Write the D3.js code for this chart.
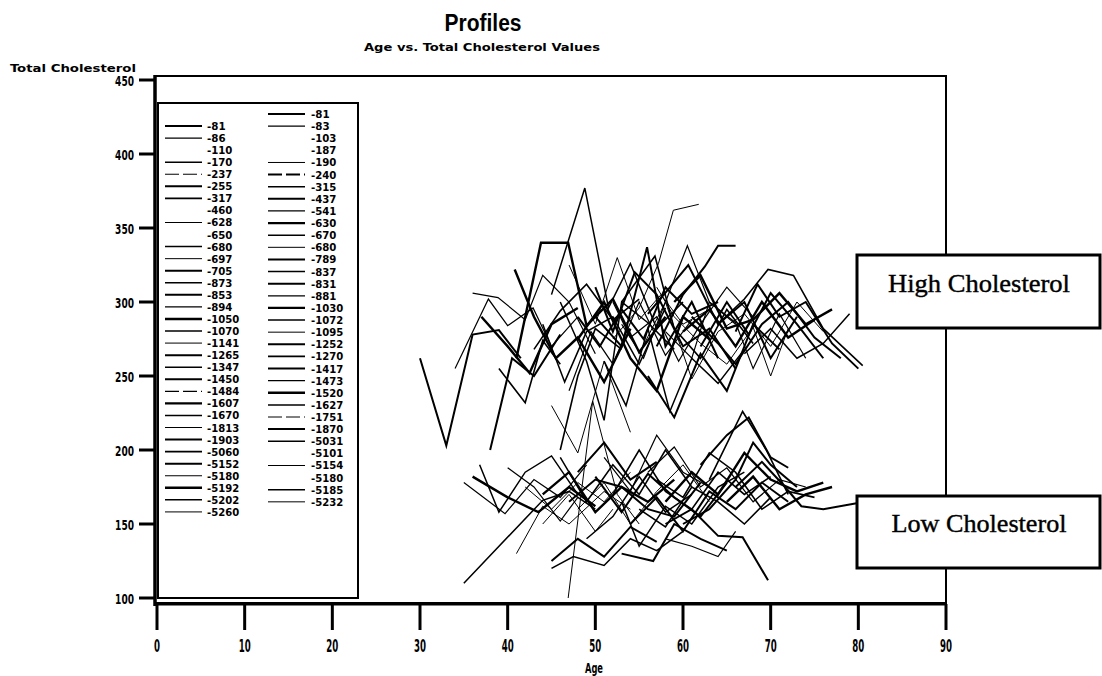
<!DOCTYPE html>
<html><head><meta charset="utf-8">
<script src="https://cdn.jsdelivr.net/npm/d3@7"></script>
<style>body{margin:0;background:#fff}</style>
</head><body>
<svg id="c" width="1102" height="676"></svg>
<script>
const xTicks = [0,10,20,30,40,50,60,70,80,90];
const yTicks = [100,150,200,250,300,350,400,450];
const legendLeft = ["81","86","110","170","237","255","317","460","628","650","680","697","705","873","853","894","1050","1070","1141","1265","1347","1450","1484","1607","1670","1813","1903","5060","5152","5180","5192","5202","5260"];
const legendRight = ["81","83","103","187","190","240","315","437","541","630","670","680","789","837","831","881","1030","1072","1095","1252","1270","1417","1473","1520","1627","1751","1870","5031","5101","5154","5180","5185","5232"];

// [age, total cholesterol] per visit
const highProfiles = [
 [[30,262],[33,203],[36,278],[39,281],[41.5,262]],
 [[34,255],[37.8,302],[40,284],[42.9,296],[45,270],[48,290]],
 [[41,262],[43.8,340],[46.9,340],[49,284],[52,302],[55,266],[58,290]],
 [[45,305],[48.8,377],[51.5,296],[54,326],[57,282],[60,300]],
 [[52,275],[55,296],[57.2,326],[58.9,362],[61.8,366]],
 [[57,270],[60,305],[62.5,324],[64,338],[66,338]],
 [[64,285],[67,302],[69.7,322],[72.6,318],[76,282],[80.5,257]],
 [[66,280],[68.5,312],[71,290],[74,300],[77,272],[80,255]],
 [[36,306],[38.9,303],[42,288],[44,318],[47,300],[50,265]],
 [[40.8,322],[43,290],[45.5,262],[48,276],[51,246],[54,282]],
 [[46,300],[49,260],[51,220],[53,300],[56,286],[59,268]],
 [[47,325],[50,285],[52.5,330],[55,288],[57.5,305],[60,285],[63,295]],
 [[50,290],[53,270],[55.9,337],[58,270],[61,300],[64,262]],
 [[53,300],[56.8,331],[59,282],[62,262],[65,295],[68,272]],
 [[56,292],[60.6,325],[64,285],[67,300],[70,262],[73,290]],
 [[58,280],[61,262],[63,300],[66,286],[68,255],[71,292],[74,262]],
 [[48,275],[51,300],[54,262],[57,240],[60,290],[63,275]],
 [[44,285],[46.5,246],[49,280],[52,290],[55,258],[58,296]],
 [[55,265],[58,300],[61,248],[64,280],[67,292],[70,270],[73,300],[76,280]],
 [[62,270],[65,300],[67.5,278],[70,306],[73,285],[76,262]],
 [[39,255],[42,232],[44,274],[46,258]],
 [[50,310],[52,280],[54.5,320],[57,305],[60,270],[63,282],[66,255]],
 [[47,240],[49.5,280],[52,258],[55,300],[58,264],[61,288]],
 [[59,300],[62,318],[65,282],[68,288],[71,306],[74,285],[77,295]],
 [[51,260],[53.5,230],[56,282],[58.5,226],[61,262],[64,245],[67,268]],
 [[45,230],[48,198],[51,260],[54,212]],
 [[56,250],[59,222],[62,265],[65,240],[68,285],[71,268]],
 [[43,268],[46,294],[49,312],[52,288],[55,302]],
 [[61,290],[64,272],[66,258],[69,285],[72,300],[75,276],[78,262]],
 [[53,285],[55.5,262],[58,300],[60.5,338],[63,300],[66,285]],
 [[37,290],[40,270],[42.5,252],[45,285],[48,296]],
 [[67,265],[70,282],[73,262],[76,272],[79,292]],
 [[57,310],[59,290],[62,272],[65,258],[68,283],[70,250],[72,282]],
 [[38,200],[40.5,262],[43,250],[46,278]],
 [[46,200],[48,250],[50,282],[53,268]],
 [[48,290],[50.5,270],[53,295],[55.5,275],[58,310],[61,292],[64,300]],
 [[52,300],[54,276],[57,290],[59.5,260],[62,285],[65,310],[68,290]],
 [[60,280],[63,295],[66,270],[69,300],[72,276],[75,288]]
];
const lowProfiles = [
 [[35,110],[44,166],[47,172],[50,160]],
 [[46.9,100],[49.7,233],[52.5,170],[55,150]],
 [[58,150],[61,160],[64,142],[66.8,141],[69.7,112]],
 [[63,180],[66.8,226],[69.5,200],[72,170]],
 [[66,175],[69,192],[71.5,176],[73.5,162],[76,160],[79.8,164]],
 [[35,178],[39.7,157],[43,180],[46,168],[49,190]],
 [[36,182],[40,168],[43.5,158],[47,175],[50,162]],
 [[36.8,190],[39,158],[42,185],[45,196],[48,170]],
 [[41,130],[44,162],[47,150],[51,172],[54,160]],
 [[45,125],[48,140],[51,128],[54,148],[57,138]],
 [[45,120],[47.5,128],[51,122],[54,140],[57,132],[60,145]],
 [[53,130],[56.6,125],[59,150],[62,140],[65,132]],
 [[58,140],[61,135],[64,128],[66,145]],
 [[44,170],[47,185],[50,158],[53,175],[56,165],[59,180]],
 [[46,195],[49,165],[52,190],[55,170],[58,200],[61,175]],
 [[48,160],[51,178],[54,150],[57,172],[60,190],[63,165]],
 [[50,182],[53,158],[56,184],[59,168],[62,155],[65,178]],
 [[52,170],[55,200],[58,172],[61,160],[64,185],[67,170],[70,182]],
 [[54,150],[57,168],[60,145],[63,172],[66,160],[69,178],[72,165]],
 [[56,185],[59,202],[62,175],[65,188],[68,165],[71,180],[74,175]],
 [[58,165],[61,185],[64,170],[67,198],[70,180],[73,172],[76,178]],
 [[49,140],[52,155],[55,182],[58,158],[61,170]],
 [[42,175],[45,160],[48,178],[51,165],[54,185]],
 [[60,150],[63,160],[66,180],[68,205],[70,190],[73,175]],
 [[55,160],[58,148],[61,175],[64,165],[67,150],[70,168]],
 [[47,165],[50,180],[53,175],[56,160],[59,155],[62,178]],
 [[51,195],[54,172],[57,210],[60,185],[63,175]],
 [[65,165],[68,182],[71,160],[74,170],[77,175]],
 [[53,165],[55,135],[58,162],[61,150],[64,175],[67,185]],
 [[44,150],[47,170],[50,145],[52,160]],
 [[62,190],[65,210],[67.5,222],[70,195],[72,188]],
 [[57,180],[60,168],[63,198],[66,185],[69,160],[72,172],[75,168]],
 [[48,185],[51,205],[54,180],[57,192]],
 [[40,188],[43,175],[46,152],[48,168]]
];

// style tables (kept separate from data)
const widthCycle = [2, 1.2, 2.4, 1.5, 1, 2, 1.6];
const legLeftHidden = [2,7,9], legRightHidden = [2,3,28,30];
const legLeftDashed = [4,22], legRightDashed = [5,25];

const svg = d3.select("#c");
const SAS = "'DejaVu Sans Condensed','DejaVu Sans',sans-serif";
const x = d3.scaleLinear().domain([0,90]).range([157,946]);
const y = d3.scaleLinear().domain([100,450]).range([598,80]);
const line = d3.line().x(d=>x(d[0])).y(d=>y(d[1]));

// titles
svg.append("text").attr("x",483).attr("y",31).attr("text-anchor","middle")
  .attr("font-family","'Liberation Sans',Arial,sans-serif").attr("font-weight","bold")
  .attr("font-size",23).attr("textLength",77).attr("lengthAdjust","spacingAndGlyphs").text("Profiles");
svg.append("text").attr("x",482).attr("y",51).attr("text-anchor","middle")
  .attr("font-family",SAS).attr("font-weight","bold").attr("font-size",11)
  .attr("textLength",236).attr("lengthAdjust","spacingAndGlyphs").text("Age vs. Total Cholesterol Values");
svg.append("text").attr("x",10).attr("y",72)
  .attr("font-family",SAS).attr("font-weight","bold").attr("font-size",10)
  .attr("textLength",126).attr("lengthAdjust","spacingAndGlyphs").text("Total Cholesterol");

// data lines
const all = highProfiles.concat(lowProfiles);
svg.append("g").selectAll("path").data(all).join("path")
  .attr("d", line).attr("fill","none").attr("stroke","#000")
  .attr("stroke-width",(d,i)=>widthCycle[i%widthCycle.length])
  .attr("stroke-linejoin","miter");

// frame
svg.append("rect").attr("x",155).attr("y",76).attr("width",791).attr("height",527)
  .attr("fill","none").attr("stroke","#000").attr("stroke-width",2);
svg.append("line").attr("x1",155).attr("x2",155).attr("y1",75).attr("y2",606)
  .attr("stroke","#000").attr("stroke-width",3.5);
svg.append("line").attr("x1",154).attr("x2",947).attr("y1",604).attr("y2",604)
  .attr("stroke","#000").attr("stroke-width",3);

// y axis ticks/labels
const yg = svg.append("g");
yg.selectAll("line").data(yTicks).join("line")
  .attr("x1",139).attr("x2",155).attr("y1",d=>y(d)).attr("y2",d=>y(d))
  .attr("stroke","#000").attr("stroke-width",3);
yg.selectAll("text").data(yTicks).join("text")
  .attr("x",134).attr("y",d=>y(d)+5.5).attr("text-anchor","end")
  .attr("font-family",SAS).attr("font-weight","bold").attr("font-size",14)
  .attr("textLength",d=>String(d).length*6.3).attr("lengthAdjust","spacingAndGlyphs")
  .text(d=>d);

// x axis ticks/labels
const xg = svg.append("g");
xg.selectAll("line").data(xTicks).join("line")
  .attr("x1",d=>x(d)).attr("x2",d=>x(d)).attr("y1",604).attr("y2",630)
  .attr("stroke","#000").attr("stroke-width",3);
xg.selectAll("text").data(xTicks).join("text")
  .attr("x",d=>x(d)).attr("y",652).attr("text-anchor","middle")
  .attr("font-family",SAS).attr("font-weight","bold").attr("font-size",18)
  .attr("textLength",d=>String(d).length*6).attr("lengthAdjust","spacingAndGlyphs")
  .text(d=>d);
svg.append("text").attr("x",594).attr("y",673).attr("text-anchor","middle")
  .attr("font-family",SAS).attr("font-weight","bold").attr("font-size",14)
  .attr("textLength",18).attr("lengthAdjust","spacingAndGlyphs").text("Age");

// legend
svg.append("rect").attr("x",158).attr("y",103).attr("width",200).attr("height",495)
  .attr("fill","#fff").attr("stroke","#000").attr("stroke-width",2);
function legendCol(ids, y0, step, lx1, lx2, tx, hidden, dashed){
  const g = svg.append("g");
  g.selectAll("line").data(ids).join("line")
    .attr("x1",lx1).attr("x2",lx2)
    .attr("y1",(d,i)=>y0+i*step).attr("y2",(d,i)=>y0+i*step)
    .attr("stroke",(d,i)=>hidden.includes(i)?"none":"#000")
    .attr("stroke-width",(d,i)=>widthCycle[i%widthCycle.length])
    .attr("stroke-dasharray",(d,i)=>dashed.includes(i)?"14,4":null);
  g.selectAll("text").data(ids).join("text")
    .attr("x",tx).attr("y",(d,i)=>y0+i*step+4)
    .attr("font-family",SAS).attr("font-weight","bold").attr("font-size",10)
    .attr("textLength",d=>d.length*6.8+5).attr("lengthAdjust","spacingAndGlyphs")
    .text(d=>"-"+d);
}
legendCol(legendLeft,126,12.06,165,202,207,legLeftHidden,legLeftDashed);
legendCol(legendRight,114,12.12,268,305,311,legRightHidden,legRightDashed);

// annotation boxes
function box(y0,h,label,ty,tl){
  svg.append("rect").attr("x",857).attr("y",y0).attr("width",243).attr("height",h)
    .attr("fill","#fff").attr("stroke","#000").attr("stroke-width",3);
  svg.append("text").attr("x",979).attr("y",ty).attr("text-anchor","middle")
    .attr("font-family","'Liberation Serif','Times New Roman',serif").attr("font-size",26)
    .attr("stroke","#000").attr("stroke-width",0.4)
    .attr("textLength",tl).attr("lengthAdjust","spacingAndGlyphs").text(label);
}
box(255,73,"High Cholesterol",292,182);
box(496,72,"Low Cholesterol",532,175);
</script>
</body></html>
